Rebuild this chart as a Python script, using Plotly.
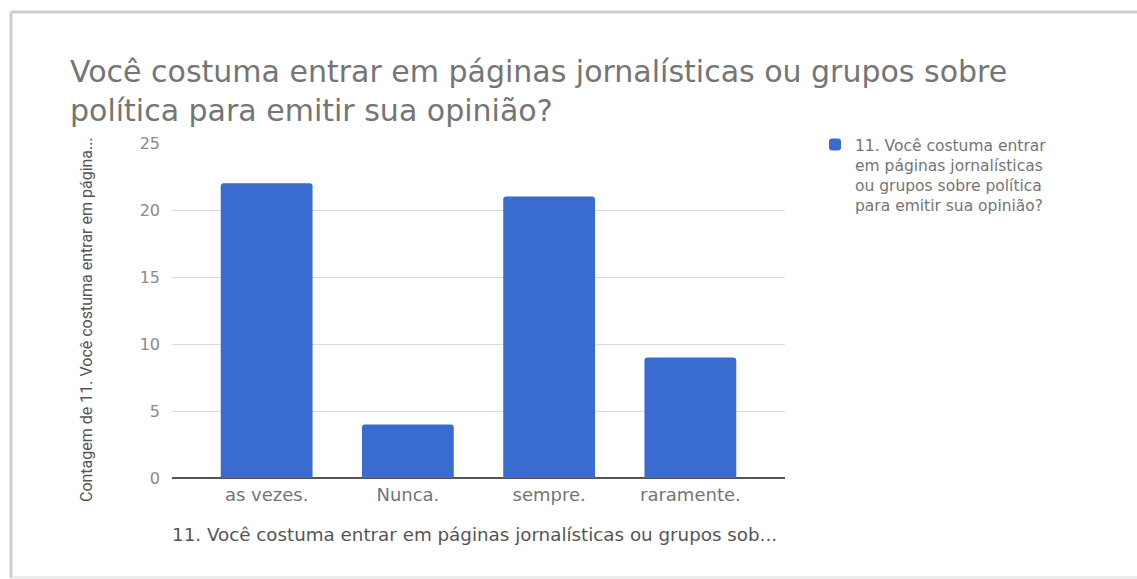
import plotly.graph_objects as go

# Survey answers and their counts
categorias = ["as vezes.", "Nunca.", "sempre.", "raramente."]
contagens = [22, 4, 21, 9]
y_ticks = [0, 5, 10, 15, 20, 25]

titulo = ("Você costuma entrar em páginas jornalísticas ou grupos sobre<br>"
          "política para emitir sua opinião?")
nome_serie = "11. Você costuma entrar<br>em páginas jornalísticas<br>ou grupos sobre política<br>para emitir sua opinião?"
titulo_x = "11. Você costuma entrar em páginas jornalísticas ou grupos sob..."
titulo_y = "Contagem de 11. Você costuma entrar em página..."

W, H = 1137, 579
L, R, T, B = 172, 352, 143, 101
pw, ph = W - L - R, H - T - B

FONT = "DejaVu Sans"
AZUL = "#3a6bd1"

fig = go.Figure()
fig.add_trace(go.Bar(
    x=categorias, y=contagens, name=nome_serie,
    marker=dict(color=AZUL, cornerradius=3, line=dict(width=0)),
    width=0.65, showlegend=True,
))

def px_x(x):
    return (x - L) / pw

def px_y(y):
    return 1 - (y - T) / ph

annotations = [
    dict(text=titulo, xref="paper", yref="paper",
         x=px_x(68), y=px_y(91), xanchor="left", yanchor="middle", align="left",
         showarrow=False, font=dict(family=FONT, size=30, color="#757575")),
    dict(text=titulo_x, xref="paper", yref="paper",
         x=px_x(170), y=px_y(534), xanchor="left", yanchor="middle",
         showarrow=False, font=dict(family=FONT, size=18.3, color="#555555")),
    dict(text=titulo_y, xref="paper", yref="paper",
         x=px_x(86), y=px_y(320), xanchor="center", yanchor="middle",
         textangle=-90, showarrow=False,
         font=dict(family="Roboto", size=16, color="#555555")),
]

# page frame: left, top and bottom edges (the right edge runs off the page)
frame = []
for color, w in (("#e6e6e6", 4), ("#c4c4c4", 1.5)):
    frame += [
        dict(type="line", xref="paper", yref="paper",
             x0=px_x(11), x1=px_x(11), y0=px_y(578), y1=px_y(12),
             line=dict(color=color, width=w), layer="below"),
        dict(type="line", xref="paper", yref="paper",
             x0=px_x(11), x1=px_x(1137), y0=px_y(12), y1=px_y(12),
             line=dict(color=color, width=w), layer="below"),
        dict(type="line", xref="paper", yref="paper",
             x0=px_x(11), x1=px_x(1137), y0=px_y(578), y1=px_y(578),
             line=dict(color="#ececec", width=w), layer="below"),
    ]

fig.update_layout(
    width=W, height=H,
    margin=dict(l=L, r=R, t=T, b=B, autoexpand=False),
    paper_bgcolor="white", plot_bgcolor="white",
    font=dict(family=FONT, color="#757575"),
    annotations=annotations,
    shapes=frame,
    legend=dict(
        x=px_x(815), y=px_y(128), xanchor="left", yanchor="top",
        valign="top",
        font=dict(family=FONT, size=15.5, color="#757575"),
        itemwidth=30, bgcolor="rgba(0,0,0,0)", tracegroupgap=0,
    ),
    xaxis=dict(
        range=[-0.67, 3.67], showgrid=False, zeroline=False,
        showline=False, ticks="", fixedrange=True,
        tickfont=dict(family=FONT, size=18, color="#757575"),
        ticklabelstandoff=4,
    ),
    yaxis=dict(
        range=[0, 25], tickvals=y_ticks, showgrid=True, gridcolor="#dcdcdc",
        gridwidth=1, zeroline=True, zerolinecolor="#555555", zerolinewidth=1.5,
        showline=False, ticks="",
        tickfont=dict(family=FONT, size=16, color="#8a8a8a"),
        ticklabelstandoff=11,
    ),
)

fig.write_html("out.html")
